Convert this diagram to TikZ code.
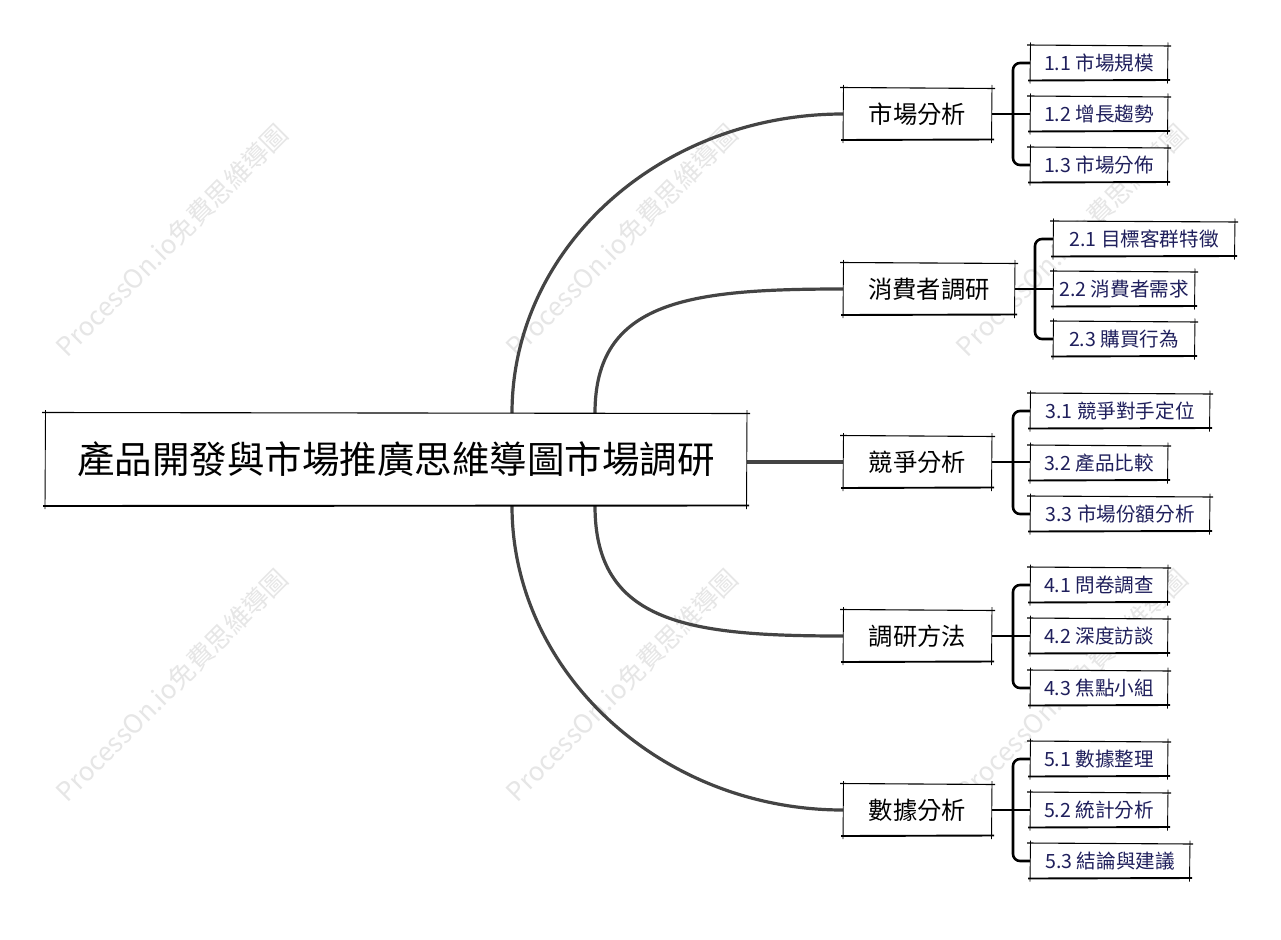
\documentclass[tikz,border=0pt]{standalone}
\usepackage{fontspec}
\setmainfont{Noto Sans CJK TC}
\definecolor{leaftext}{HTML}{1F1F5C}
\definecolor{curvecol}{HTML}{444444}
\definecolor{wmark}{HTML}{E6E6E6}
\newcommand\skbox[1]{%
  \draw[line width=1.1pt] ([xshift=-3pt,yshift=0.5pt]#1.north west) -- ([xshift=3pt,yshift=-0.5pt]#1.north east);
  \draw[line width=1.9pt] ([xshift=-2pt]#1.south west) -- ([xshift=2pt,yshift=0.5pt]#1.south east);
  \draw[line width=0.9pt] ([xshift=0.5pt,yshift=3pt]#1.north west) -- ([yshift=-3pt]#1.south west);
  \draw[line width=0.9pt] ([yshift=3pt]#1.north east) -- ([xshift=-0.5pt,yshift=-3pt]#1.south east);
}
\tikzset{
  every node/.style={inner sep=0pt, outer sep=0pt},
  rootbox/.style={fill=white, minimum width=702pt, minimum height=93pt, font=\fontsize{37.5}{44}\selectfont},
  branchbox/.style={fill=white, minimum width=149pt, minimum height=52pt, font=\fontsize{24.3}{29}\selectfont},
  leafbox/.style={fill=white, minimum width=138pt, minimum height=35pt, text=leaftext, font=\fontsize{19.6}{23}\selectfont},
  curve/.style={draw=curvecol, line width=3.2pt},
  tree/.style={draw=black, line width=2.6pt, rounded corners=7pt},
  wm/.style={text=wmark, rotate=45, font=\fontsize{26}{30}\selectfont}
}
\begin{document}
\begin{tikzpicture}[x=1pt,y=-1pt]
\useasboundingbox[fill=white] (0,0) rectangle (1281,939);
% watermarks
\foreach \cx/\cy/\n in {172/240/1,622/240/2,1072/240/3,172/685/4,622/685/5,1072/685/6}{
  \node[wm] (wm\n) at (\cx,\cy) {ProcessOn.io免費思維導圖};
}
% root connectors (drawn first, under boxes)
\coordinate (r1) at (512,413);
\coordinate (r2) at (595,413);
\coordinate (r4) at (595,506);
\coordinate (r5) at (512,506);
% root
\node[rootbox] (root) at (396,459.5) {產品開發與市場推廣思維導圖市場調研};
% branches
\node[branchbox] (b1) at (917.5,114) {市場分析};
\node[branchbox, minimum width=172pt] (b2) at (929,289) {消費者調研};
\node[branchbox] (b3) at (917.5,462) {競爭分析};
\node[branchbox] (b4) at (917.5,636) {調研方法};
\node[branchbox] (b5) at (917.5,810) {數據分析};
% leaves
\node[leafbox] (l11) at (1099,63) {1.1 市場規模};
\node[leafbox] (l12) at (1099,114) {1.2 增長趨勢};
\node[leafbox] (l13) at (1099,165) {1.3 市場分佈};
\node[leafbox, minimum width=182pt] (l21) at (1144,239) {2.1 目標客群特徵};
\node[leafbox, minimum width=142pt] (l22) at (1124,289) {2.2 消費者需求};
\node[leafbox, minimum width=142pt] (l23) at (1124,339) {2.3 購買行為};
\node[leafbox, minimum width=180pt] (l31) at (1120,411) {3.1 競爭對手定位};
\node[leafbox] (l32) at (1099,463) {3.2 產品比較};
\node[leafbox, minimum width=180pt] (l33) at (1120,514) {3.3 市場份額分析};
\node[leafbox] (l41) at (1099,585) {4.1 問卷調查};
\node[leafbox] (l42) at (1099,636) {4.2 深度訪談};
\node[leafbox] (l43) at (1099,688) {4.3 焦點小組};
\node[leafbox] (l51) at (1099,759) {5.1 數據整理};
\node[leafbox] (l52) at (1099,810) {5.2 統計分析};
\node[leafbox, minimum width=160pt] (l53) at (1110,861) {5.3 結論與建議};
% curves from root
\draw[curve] (r1) .. controls (512,248) and (660,114) .. (b1.west);
\draw[curve] (r2) .. controls (595,300) and (690,289) .. (b2.west);
\draw[curve] (root.east |- b3.west) -- (b3.west);
\draw[curve] (r4) .. controls (595,624) and (690,636) .. (b4.west);
\draw[curve] (r5) .. controls (512,671) and (660,810) .. (b5.west);
% branch to leaves
\coordinate (j1) at (1013,114);
\coordinate (j2) at (1035,289);
\coordinate (j3) at (1013,462);
\coordinate (j4) at (1013,636);
\coordinate (j5) at (1013,810);
\foreach \b/\j in {1/1,2/2,3/3,4/4,5/5}{
  \draw[tree] (b\b.east |- j\j) -- (l\b2.west |- j\j);
  \draw[tree] (l\b1.west) -| (j\j) |- (l\b3.west);
}
% sketchy boxes
\skbox{root}
\foreach \n in {b1,b2,b3,b4,b5,l11,l12,l13,l21,l22,l23,l31,l32,l33,l41,l42,l43,l51,l52,l53}{
  \skbox{\n}
}
\end{tikzpicture}
\end{document}
